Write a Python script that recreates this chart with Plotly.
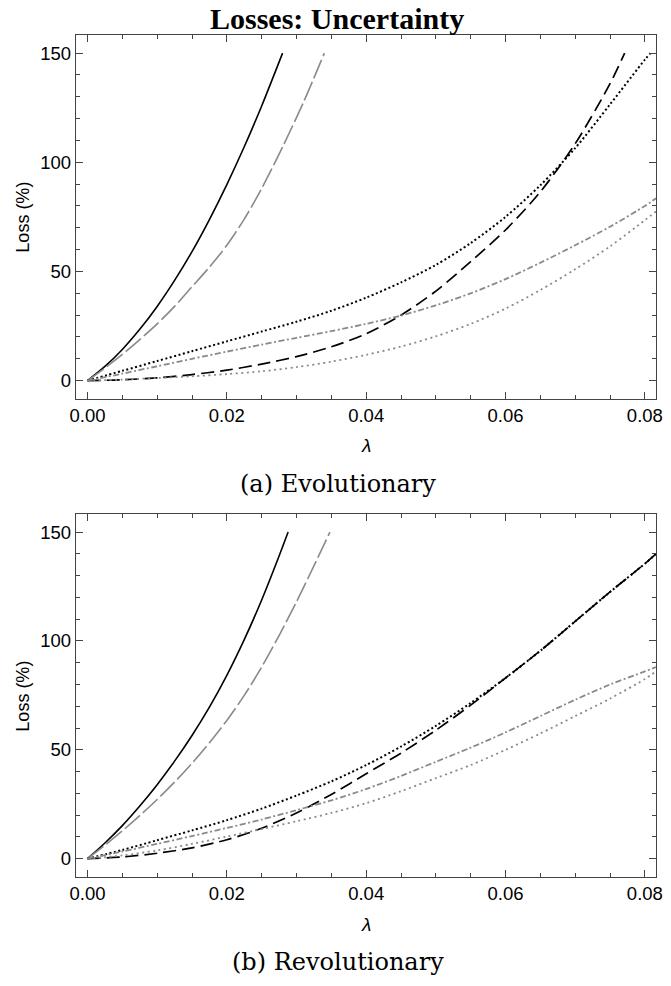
import plotly.graph_objects as go

# loss (%) against lambda
# --- (a) Evolutionary ---
EVO_SOLID_X = [0, 0.0025, 0.005, 0.0075, 0.010, 0.0125, 0.015, 0.0175, 0.020, 0.0225, 0.025, 0.028]
EVO_SOLID_Y = [0, 6.5, 14.3, 23.5, 34, 45.9, 59.1, 73.8, 89.8, 107.1, 125.8, 150]

EVO_GRAYLONG_X = [0, 0.0025, 0.005, 0.0075, 0.010, 0.0125, 0.015, 0.0175, 0.020, 0.0225, 0.025, 0.028, 0.031, 0.034]
EVO_GRAYLONG_Y = [0, 5.8, 12, 18.8, 26, 34, 43, 52, 62, 74, 88, 107, 127.5, 150]

EVO_DOT_X = [0, 0.005, 0.010, 0.015, 0.020, 0.025, 0.030, 0.035, 0.040, 0.045, 0.050, 0.055, 0.060, 0.065, 0.070, 0.075, 0.080, 0.0808]
EVO_DOT_Y = [0, 4.5, 9, 13.5, 18, 22.5, 27, 32, 38, 45, 53, 63, 75, 89.5, 106.5, 126.5, 147, 150]

EVO_DASH_X = [0, 0.005, 0.010, 0.015, 0.020, 0.025, 0.030, 0.035, 0.040, 0.045, 0.050, 0.055, 0.060, 0.065, 0.070, 0.075, 0.0771]
EVO_DASH_Y = [0, 0.4, 1.3, 2.8, 4.8, 7.6, 11, 15.5, 21.5, 30, 41, 54.5, 69, 86.5, 108.5, 136, 150]

EVO_DASHDOT_X = [0, 0.005, 0.010, 0.015, 0.020, 0.025, 0.030, 0.035, 0.040, 0.045, 0.050, 0.055, 0.060, 0.065, 0.070, 0.075, 0.080, 0.0816]
EVO_DASHDOT_Y = [0, 3.2, 6.6, 10, 13.3, 16.5, 19.6, 22.7, 26, 29.8, 34.5, 40, 46.5, 54, 62, 70.5, 80, 83.5]

EVO_GRAYDOT_X = [0, 0.005, 0.010, 0.015, 0.020, 0.025, 0.030, 0.035, 0.040, 0.045, 0.050, 0.055, 0.060, 0.065, 0.070, 0.075, 0.080, 0.0816]
EVO_GRAYDOT_Y = [0, 0.5, 1.2, 2, 3, 4.3, 6.2, 8.7, 11.8, 15.6, 20.3, 26, 33, 41.5, 51, 61.5, 73.5, 77.5]

# --- (b) Revolutionary ---
REV_SOLID_X = [0, 0.0025, 0.005, 0.0075, 0.010, 0.0125, 0.015, 0.0175, 0.020, 0.0225, 0.025, 0.0275, 0.0288]
REV_SOLID_Y = [0, 7.2, 15.2, 24.2, 34, 44.8, 56.6, 69.6, 84.2, 100.6, 118.8, 139, 150]

REV_GRAYLONG_X = [0, 0.0025, 0.005, 0.0075, 0.010, 0.0125, 0.015, 0.0175, 0.020, 0.0225, 0.025, 0.0275, 0.030, 0.0325, 0.0348]
REV_GRAYLONG_Y = [0, 6.2, 12.8, 19.8, 27.2, 35.2, 43.8, 53.2, 63.5, 75, 88, 102.5, 118, 134.5, 150]

REV_DOT_X = [0, 0.005, 0.010, 0.015, 0.020, 0.025, 0.030, 0.035, 0.040, 0.045, 0.050, 0.055, 0.060, 0.065, 0.070, 0.075, 0.080, 0.0816]
REV_DOT_Y = [0, 4, 8.5, 13, 17.7, 23, 29, 35.5, 43, 51.5, 61, 71.5, 83, 95.5, 109, 122.5, 135.5, 140]

REV_DASH_X = [0, 0.005, 0.010, 0.015, 0.020, 0.025, 0.030, 0.035, 0.040, 0.045, 0.050, 0.055, 0.060, 0.065, 0.070, 0.075, 0.080, 0.0816]
REV_DASH_Y = [0, 0.8, 2.5, 5, 8.7, 14, 21, 29.5, 39, 48.5, 59, 70.5, 83, 95.5, 109, 122.5, 135.5, 140]

REV_DASHDOT_X = [0, 0.005, 0.010, 0.015, 0.020, 0.025, 0.030, 0.035, 0.040, 0.045, 0.050, 0.055, 0.060, 0.065, 0.070, 0.075, 0.080, 0.0816]
REV_DASHDOT_Y = [0, 3.3, 6.8, 10.4, 14.1, 18, 22.3, 26.8, 32, 38, 44.5, 51, 58, 65.5, 73, 80, 86, 88]

REV_GRAYDOT_X = [0, 0.005, 0.010, 0.015, 0.020, 0.025, 0.030, 0.035, 0.040, 0.045, 0.050, 0.055, 0.060, 0.065, 0.070, 0.075, 0.080, 0.0816]
REV_GRAYDOT_Y = [0, 1.5, 3.8, 6.8, 10.2, 13.6, 17.2, 21, 25.5, 31, 37, 43, 50, 57.5, 65.5, 73.5, 82.5, 86]

X_TICKS = [0.0, 0.02, 0.04, 0.06, 0.08]
X_TICK_TEXT = ["0.00", "0.02", "0.04", "0.06", "0.08"]
Y_TICKS = [0, 50, 100, 150]

GRAY = "#8a8a8a"
FRAME = "#444444"

STYLES = [
    dict(color="black", width=1.6, dash="solid"),
    dict(color=GRAY, width=1.6, dash="20px,4px"),
    dict(color="black", width=2, dash="2px,2.5px"),
    dict(color="black", width=1.7, dash="13px,6px"),
    dict(color=GRAY, width=1.8, dash="6px,2.5px,2px,2.5px"),
    dict(color=GRAY, width=1.8, dash="2px,3.5px"),
]

panels = [
    ("x", "y", [(EVO_SOLID_X, EVO_SOLID_Y), (EVO_GRAYLONG_X, EVO_GRAYLONG_Y), (EVO_DOT_X, EVO_DOT_Y),
                (EVO_DASH_X, EVO_DASH_Y), (EVO_DASHDOT_X, EVO_DASHDOT_Y), (EVO_GRAYDOT_X, EVO_GRAYDOT_Y)]),
    ("x2", "y2", [(REV_SOLID_X, REV_SOLID_Y), (REV_GRAYLONG_X, REV_GRAYLONG_Y), (REV_DOT_X, REV_DOT_Y),
                  (REV_DASH_X, REV_DASH_Y), (REV_DASHDOT_X, REV_DASHDOT_Y), (REV_GRAYDOT_X, REV_GRAYDOT_Y)]),
]

fig = go.Figure()
for xa, ya, curves in panels:
    for (xs, ys), st in zip(curves, STYLES):
        fig.add_trace(go.Scatter(x=xs, y=ys, mode="lines", line=dict(shape="spline", smoothing=0.8, **st),
                                 xaxis=xa, yaxis=ya, showlegend=False, hoverinfo="skip"))

tick_font = dict(family="Liberation Sans, Arial, sans-serif", size=18.5, color="black")


def xaxis_style(anchor):
    return dict(
        anchor=anchor, range=[-0.00165, 0.0816], tickvals=X_TICKS, ticktext=X_TICK_TEXT,
        ticks="inside", ticklen=7, tickcolor=FRAME, tickwidth=1.4,
        minor=dict(dtick=0.005, tick0=0, ticks="inside", ticklen=4, tickcolor=FRAME, tickwidth=1.2),
        showline=True, linecolor=FRAME, linewidth=1.4, mirror="allticks",
        showgrid=False, zeroline=False, tickfont=tick_font,
    )


def yaxis_style(anchor, domain):
    return dict(
        anchor=anchor, domain=domain, range=[-8.4, 158.3], tickvals=Y_TICKS,
        ticks="inside", ticklen=7, tickcolor=FRAME, tickwidth=1.4,
        minor=dict(dtick=10, tick0=0, ticks="inside", ticklen=4, tickcolor=FRAME, tickwidth=1.2),
        showline=True, linecolor=FRAME, linewidth=1.4, mirror="allticks",
        showgrid=False, zeroline=False, tickfont=tick_font,
    )


W, H = 671, 986
PLOT_L, PLOT_R, PLOT_T, PLOT_B = 76, 663, 35, 877

fig.update_layout(
    width=W, height=H,
    margin=dict(l=PLOT_L, r=W - PLOT_R, t=PLOT_T, b=H - PLOT_B),
    paper_bgcolor="white", plot_bgcolor="white",
    xaxis=xaxis_style("y"),
    yaxis=yaxis_style("x", [(PLOT_B - 399) / (PLOT_B - PLOT_T), 1.0]),
    xaxis2=xaxis_style("y2"),
    yaxis2=yaxis_style("x2", [0.0, (PLOT_B - 514) / (PLOT_B - PLOT_T)]),
)

serif = "Liberation Serif, Times New Roman, serif"
sans = "Liberation Sans, Arial, sans-serif"
# (text, page x, page y, size, family, angle, yanchor)
notes = [
    ("<b>Losses: Uncertainty</b>", 340, 0, 30, serif, 0, "top"),
    ("<i>λ</i>", 369, 446, 19, sans, 0, "middle"),
    ("<i>λ</i>", 369, 924, 19, sans, 0, "middle"),
    ("(a) Evolutionary", 341, 484, 24, "DejaVu Serif, serif", 0, "middle"),
    ("(b) Revolutionary", 341, 962, 24, "DejaVu Serif, serif", 0, "middle"),
    ("Loss (%)", 22, 217, 18, sans, -90, "middle"),
    ("Loss (%)", 22, 696, 18, sans, -90, "middle"),
]
for text, px, py, size, family, angle, yanchor in notes:
    fig.add_annotation(
        text=text, xref="paper", yref="paper",
        x=(px - PLOT_L) / (PLOT_R - PLOT_L), y=(PLOT_B - py) / (PLOT_B - PLOT_T),
        showarrow=False, xanchor="center", yanchor=yanchor, textangle=angle,
        font=dict(family=family, size=size, color="black"),
    )

# drop the browser's default body margin so the figure sits at the page corner
fig.write_html("out.html", config={"displayModeBar": False},
               post_script="document.body.style.margin = '0';")
